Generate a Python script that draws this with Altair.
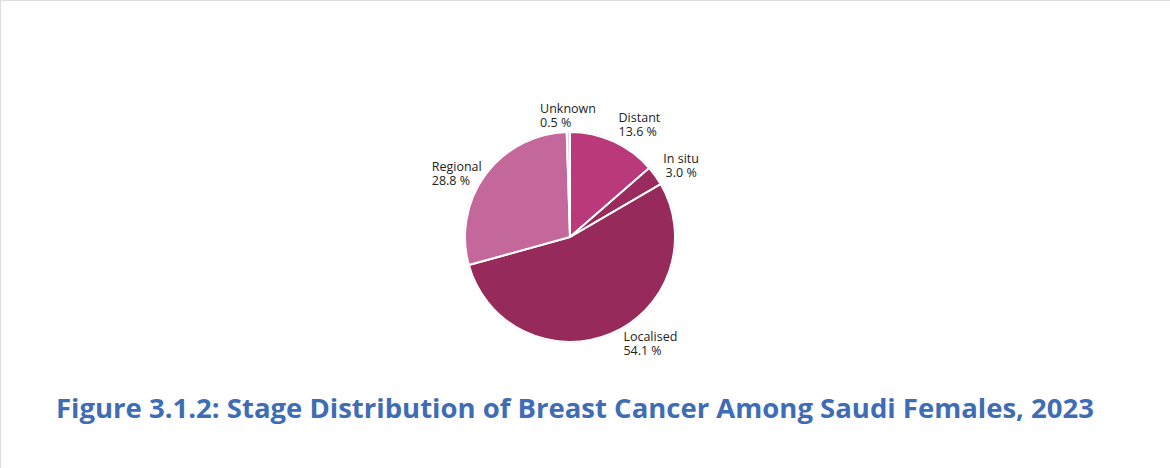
import altair as alt
import pandas as pd

# Stage distribution (percent of cases), clockwise from 12 o'clock
stages = ["Distant", "In situ", "Localised", "Regional", "Unknown"]
shares = [13.6, 3.0, 54.1, 28.8, 0.5]
share_text = ["13.6 %", "3.0 %", "54.1 %", "28.8 %", "0.5 %"]
colors = ["#B9397B", "#9A2C5D", "#962A5A", "#C4689C", "#F3CDDF"]

title_text = "Figure 3.1.2: Stage Distribution of Breast Cancer Among Saudi Females, 2023"

df = pd.DataFrame({
    "stage": stages,
    "share": shares,
    "idx": list(range(len(stages))),
    "label": [f"{s}\n{t}" for s, t in zip(stages, share_text)],
})

CX, CY, R = 570, 237, 105
theta_scale = alt.Scale(domain=[0, 100])

base = alt.Chart(df)

# faint outline around the pie
ring = base.mark_arc(outerRadius=R + 1, color="#d9d9d9").encode(
    x=alt.value(CX), y=alt.value(CY),
    theta=alt.value(0), theta2=alt.value(6.2832),
).transform_filter(alt.datum.idx == 0)

pie = base.mark_arc(outerRadius=R, stroke="white", strokeWidth=2).encode(
    x=alt.value(CX), y=alt.value(CY),
    theta=alt.Theta("share:Q", stack=True, scale=theta_scale),
    color=alt.Color("stage:N", scale=alt.Scale(domain=stages, range=colors), legend=None),
    order=alt.Order("idx:Q"),
)

# label placement per slice: (dx, dy, align)
label_style = {
    "Distant": (-2, -8, "left"),
    "In situ": (12, -7, "center"),
    "Localised": (6, -12, "left"),
    "Regional": (-40, 2, "left"),
    "Unknown": (-28, -6, "left"),
}

label_layers = []
for name, (dx, dy, align) in label_style.items():
    layer = base.transform_window(
        cum="sum(share)", sort=[alt.SortField("idx")], frame=[None, 0]
    ).transform_calculate(
        mid="datum.cum - datum.share / 2"
    ).transform_filter(
        alt.datum.stage == name
    ).mark_text(
        radius=122, dx=dx, dy=dy, align=align, baseline="middle",
        lineBreak="\n", lineHeight=14, font="Open Sans", fontSize=12.5, color="#222222",
    ).encode(
        x=alt.value(CX), y=alt.value(CY),
        theta=alt.Theta("mid:Q", stack=None, scale=theta_scale),
        text="label:N",
    )
    label_layers.append(layer)

title = base.mark_text(
    font="Open Sans", fontSize=27.5, fontWeight="bold", color="#3F6DB5",
    align="center", baseline="middle",
).encode(
    x=alt.value(575), y=alt.value(410), text=alt.value(title_text),
).transform_filter(alt.datum.idx == 0)

chart = alt.layer(ring, pie, *label_layers, title).properties(
    width=1170, height=468, padding=0,
    autosize=alt.AutoSizeParams(type="none"),
).configure_view(stroke=None).configure(background="white")

chart.save("out.html", embed_options={"renderer": "svg", "actions": False})
